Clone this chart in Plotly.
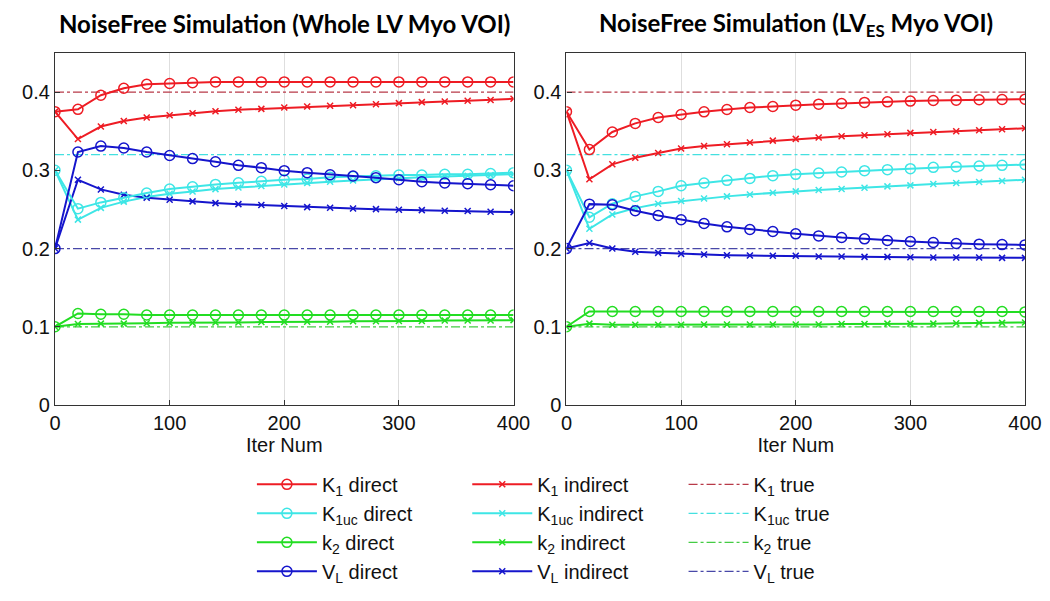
import plotly.graph_objects as go
from plotly.subplots import make_subplots

# Iteration numbers
iters = [0, 20, 40, 60, 80, 100, 120, 140, 160, 180, 200,
         220, 240, 260, 280, 300, 320, 340, 360, 380, 400]

# Whole LV Myo VOI (left panel)
k1_dir_L = [0.375, 0.378, 0.396, 0.405, 0.410, 0.411, 0.412, 0.413, 0.413, 0.413, 0.413,
            0.413, 0.413, 0.413, 0.413, 0.413, 0.413, 0.413, 0.413, 0.413, 0.413]
k1_ind_L = [0.375, 0.340, 0.356, 0.363, 0.3675, 0.3705, 0.373, 0.3756, 0.3774, 0.3786, 0.3803,
            0.3816, 0.3825, 0.3833, 0.3846, 0.3859, 0.3872, 0.388, 0.389, 0.390, 0.3915]
k1uc_dir_L = [0.300, 0.251, 0.259, 0.265, 0.271, 0.276, 0.279, 0.282, 0.284, 0.286, 0.288,
              0.289, 0.291, 0.292, 0.293, 0.294, 0.294, 0.295, 0.295, 0.296, 0.297]
k1uc_ind_L = [0.300, 0.237, 0.252, 0.260, 0.266, 0.270, 0.273, 0.276, 0.278, 0.280, 0.282,
              0.284, 0.2855, 0.287, 0.2885, 0.290, 0.291, 0.292, 0.293, 0.294, 0.295]
k2_dir_L = [0.100, 0.117, 0.116, 0.116, 0.115, 0.115, 0.115, 0.115, 0.115, 0.115, 0.115,
            0.115, 0.115, 0.115, 0.115, 0.115, 0.115, 0.115, 0.115, 0.115, 0.115]
k2_ind_L = [0.100, 0.1035, 0.104, 0.104, 0.1045, 0.105, 0.105, 0.1055, 0.1055, 0.106, 0.106,
            0.1065, 0.1065, 0.107, 0.107, 0.1075, 0.1075, 0.108, 0.108, 0.108, 0.1085]
vl_dir_L = [0.200, 0.3235, 0.331, 0.3286, 0.3235, 0.319, 0.315, 0.311, 0.3064, 0.3034, 0.2996,
            0.297, 0.2944, 0.2927, 0.2906, 0.288, 0.2855, 0.2838, 0.283, 0.2816, 0.2803]
vl_ind_L = [0.200, 0.288, 0.2756, 0.2688, 0.265, 0.2624, 0.2603, 0.2581, 0.2568, 0.2556, 0.2543,
            0.253, 0.2521, 0.2513, 0.2504, 0.2496, 0.2491, 0.2483, 0.2479, 0.247, 0.2466]

# LV_ES Myo VOI (right panel)
k1_dir_R = [0.375, 0.3265, 0.349, 0.360, 0.3675, 0.3714, 0.3748, 0.3778, 0.3803, 0.3816, 0.3833,
            0.3846, 0.3855, 0.3868, 0.3876, 0.3885, 0.3893, 0.3897, 0.3902, 0.3906, 0.391]
k1_ind_R = [0.375, 0.2885, 0.3077, 0.3162, 0.3222, 0.3278, 0.3312, 0.3333, 0.3355, 0.338, 0.3402,
            0.3419, 0.3436, 0.3449, 0.3462, 0.3479, 0.3491, 0.350, 0.3513, 0.3526, 0.3538]
k1uc_dir_R = [0.300, 0.240, 0.2573, 0.2667, 0.2731, 0.2803, 0.2838, 0.2872, 0.2897, 0.2932, 0.2949,
              0.2966, 0.2979, 0.2996, 0.3009, 0.3021, 0.3038, 0.3047, 0.3056, 0.3064, 0.3073]
k1uc_ind_R = [0.300, 0.2252, 0.2436, 0.2517, 0.2573, 0.2607, 0.2641, 0.2667, 0.2692, 0.2714, 0.2731,
              0.2748, 0.2761, 0.2778, 0.2795, 0.2808, 0.2825, 0.2838, 0.285, 0.2863, 0.288]
k2_dir_R = [0.100, 0.1195, 0.1195, 0.1195, 0.1195, 0.1195, 0.1195, 0.1195, 0.1195, 0.1195, 0.1195,
            0.1195, 0.1195, 0.1195, 0.1195, 0.1195, 0.1195, 0.1195, 0.1195, 0.1195, 0.119]
k2_ind_R = [0.100, 0.104, 0.1025, 0.1025, 0.1025, 0.1025, 0.103, 0.103, 0.103, 0.103, 0.103,
            0.103, 0.1035, 0.1035, 0.104, 0.104, 0.104, 0.1045, 0.105, 0.105, 0.1055]
vl_dir_R = [0.200, 0.2568, 0.256, 0.2483, 0.2423, 0.2368, 0.232, 0.2278, 0.2244, 0.2218, 0.2188,
            0.2162, 0.2141, 0.2124, 0.2103, 0.209, 0.2077, 0.2064, 0.2056, 0.2051, 0.2047]
vl_ind_R = [0.200, 0.2072, 0.200, 0.1958, 0.1945, 0.1932, 0.1924, 0.1915, 0.1911, 0.1907, 0.1907,
            0.1898, 0.1898, 0.1894, 0.1894, 0.189, 0.1886, 0.1886, 0.1886, 0.1881, 0.1881]

# True parameter values
true_vals = [0.40, 0.32, 0.10, 0.20]

param_names = ["K<sub>1</sub>", "K<sub>1uc</sub>", "k<sub>2</sub>", "V<sub>L</sub>"]
line_colors = ["#ee1c24", "#3ee6e6", "#22dd22", "#1515cc"]
true_colors = ["#b83a48", "#44e0e0", "#44cc44", "#4848a8"]

titles = ["<b>NoiseFree Simulation (Whole LV Myo VOI)</b>",
          "<b>NoiseFree Simulation (LV<sub>ES</sub> Myo VOI)</b>"]

panels = [
    ([k1_dir_L, k1uc_dir_L, k2_dir_L, vl_dir_L], [k1_ind_L, k1uc_ind_L, k2_ind_L, vl_ind_L]),
    ([k1_dir_R, k1uc_dir_R, k2_dir_R, vl_dir_R], [k1_ind_R, k1uc_ind_R, k2_ind_R, vl_ind_R]),
]

fig = make_subplots(rows=1, cols=2, horizontal_spacing=0.0546)

for col, (direct, indirect) in enumerate(panels, start=1):
    first = col == 1
    # true value lines
    for i in range(4):
        fig.add_trace(go.Scatter(
            x=[iters[0], iters[-1]], y=[true_vals[i], true_vals[i]],
            mode="lines", name=param_names[i] + " true",
            line=dict(color=true_colors[i], width=1.3, dash="dashdot"),
            legend="legend3", showlegend=first
        ), row=1, col=col)
    # indirect reconstructions
    for i in range(4):
        fig.add_trace(go.Scatter(
            x=iters, y=indirect[i],
            mode="lines+markers", name=param_names[i] + " indirect",
            line=dict(color=line_colors[i], width=2),
            marker=dict(symbol="x-thin-open", size=6, line=dict(color=line_colors[i], width=1.5)),
            legend="legend2", showlegend=first
        ), row=1, col=col)
    # direct reconstructions
    for i in range(4):
        fig.add_trace(go.Scatter(
            x=iters, y=direct[i],
            mode="lines+markers", name=param_names[i] + " direct",
            line=dict(color=line_colors[i], width=2),
            marker=dict(symbol="circle-open", size=10, line=dict(color=line_colors[i], width=1.5)),
            legend="legend", showlegend=first
        ), row=1, col=col)

axis_font = dict(family="Liberation Sans, Arial", size=20, color="#111")

fig.update_xaxes(
    range=[0, 400], tickvals=[0, 100, 200, 300, 400],
    showgrid=True, gridcolor="#dedede", gridwidth=1,
    showline=True, linecolor="#333", linewidth=1.2, mirror=True,
    ticks="inside", ticklen=5, tickcolor="#333",
    zeroline=False, tickfont=axis_font,
    title=dict(text="Iter Num", font=axis_font, standoff=2)
)
fig.update_yaxes(
    range=[0, 0.45], tickvals=[0, 0.1, 0.2, 0.3, 0.4],
    ticktext=["0", "0.1", "0.2", "0.3", "0.4"],
    showgrid=False,
    showline=True, linecolor="#333", linewidth=1.2, mirror=True,
    ticks="inside", ticklen=5, tickcolor="#333",
    zeroline=False, tickfont=axis_font
)

# Panel titles
for i, ref in enumerate(["x domain", "x2 domain"]):
    fig.add_annotation(
        text=titles[i], xref=ref, yref="paper", x=0.5, y=1.0,
        xanchor="center", yanchor="bottom", yshift=13 if i == 0 else 10, showarrow=False,
        font=dict(family="Lato, Open Sans", size=24, color="#000")
    )

legend_style = dict(
    orientation="v", yanchor="top", y=-0.17, xanchor="left",
    font=dict(family="Liberation Sans, Arial", size=20, color="#111"),
    bgcolor="rgba(0,0,0,0)", tracegroupgap=0, itemwidth=60
)

fig.update_layout(
    width=1050, height=601,
    margin=dict(l=47, r=33, t=45, b=204),
    plot_bgcolor="white", paper_bgcolor="white",
    legend=dict(legend_style, x=0.203),
    legend2=dict(legend_style, x=0.425),
    legend3=dict(legend_style, x=0.648),
)

fig.write_html("out.html")
